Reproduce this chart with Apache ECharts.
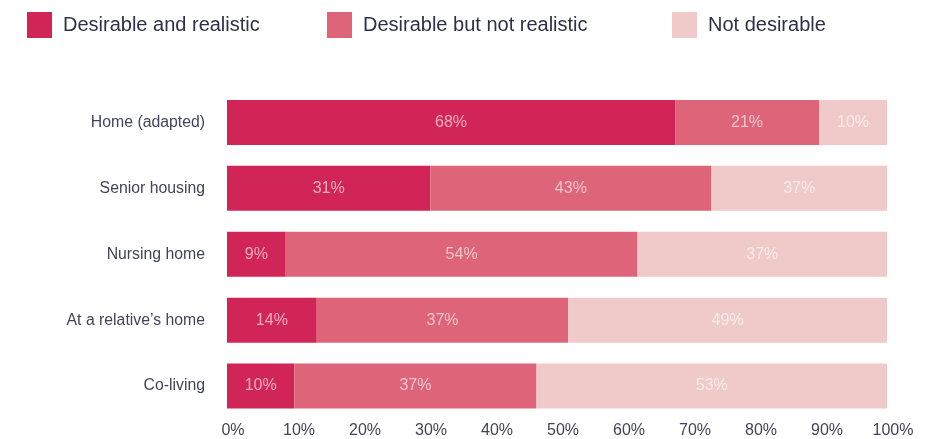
<!DOCTYPE html>
<html>
<head>
<meta charset="utf-8">
<script src="https://cdn.jsdelivr.net/npm/echarts@6/dist/echarts.min.js"></script>
<style>html,body{margin:0;padding:0;background:#fff;}#c{width:945px;height:439px;}</style>
</head>
<body>
<div id="c"></div>
<script>
const categories = ["Home (adapted)", "Senior housing", "Nursing home", "At a relative\u2019s home", "Co-living"];
const seriesNames = ["Desirable and realistic", "Desirable but not realistic", "Not desirable"];
// bar lengths as drawn (percent of the full bar)
const realistic    = [67.9, 30.8, 8.9, 13.6, 10.2];
const notRealistic = [21.8, 42.6, 53.3, 38.1, 36.7];
const notDesirable = [10.3, 26.6, 37.8, 48.3, 53.1];
// printed labels
const labelsRealistic    = ["68%", "31%", "9%", "14%", "10%"];
const labelsNotRealistic = ["21%", "43%", "54%", "37%", "37%"];
const labelsNotDesirable = ["10%", "37%", "37%", "49%", "53%"];
const xTicks = [0, 10, 20, 30, 40, 50, 60, 70, 80, 90, 100];

const colors = ["#d12557", "#de6579", "#f0c9c9"];
const font = "'Liberation Sans', Arial, Helvetica, sans-serif";
const chart = echarts.init(document.getElementById('c'));

function mk(name, data, labels, color) {
  return {
    name: name, type: 'bar', stack: 'total', barWidth: 45,
    data: data,
    itemStyle: { color: color },
    label: {
      show: true, position: 'inside', fontFamily: font, fontSize: 16,
      color: 'rgba(255,255,255,0.62)',
      formatter: p => labels[p.dataIndex]
    },
    emphasis: { disabled: true },
    animation: false
  };
}
const legendBase = {
  top: 7, itemWidth: 25, itemHeight: 26, itemGap: 10,
  textStyle: { fontFamily: font, fontSize: 20, color: '#2e3148', padding: [0,0,0,6] },
  icon: 'rect', selectedMode: false
};
chart.setOption({
  animation: false,
  color: colors,
  legend: [
    Object.assign({}, legendBase, { left: 22, data: [seriesNames[0]] }),
    Object.assign({}, legendBase, { left: 322, data: [seriesNames[1]] }),
    Object.assign({}, legendBase, { left: 667, data: [seriesNames[2]] })
  ],
  grid: { left: 227, right: 58, top: 89.5, height: 330, containLabel: false },
  xAxis: {
    type: 'value', min: 0, max: 100, interval: 10,
    axisLine: { show: false }, axisTick: { show: false }, splitLine: { show: false },
    axisLabel: {
      fontFamily: font, fontSize: 16, color: '#41455b', margin: 4,
      padding: [0, 0, 0, 12],
      formatter: v => xTicks.indexOf(v) >= 0 ? v + '%' : ''
    }
  },
  yAxis: {
    type: 'category', data: categories, inverse: true,
    axisLine: { show: false }, axisTick: { show: false },
    axisLabel: { fontFamily: font, fontSize: 15.8, color: '#41455b', margin: 22 }
  },
  series: [
    mk(seriesNames[0], realistic, labelsRealistic, colors[0]),
    mk(seriesNames[1], notRealistic, labelsNotRealistic, colors[1]),
    mk(seriesNames[2], notDesirable, labelsNotDesirable, colors[2])
  ]
});
</script>
</body>
</html>
